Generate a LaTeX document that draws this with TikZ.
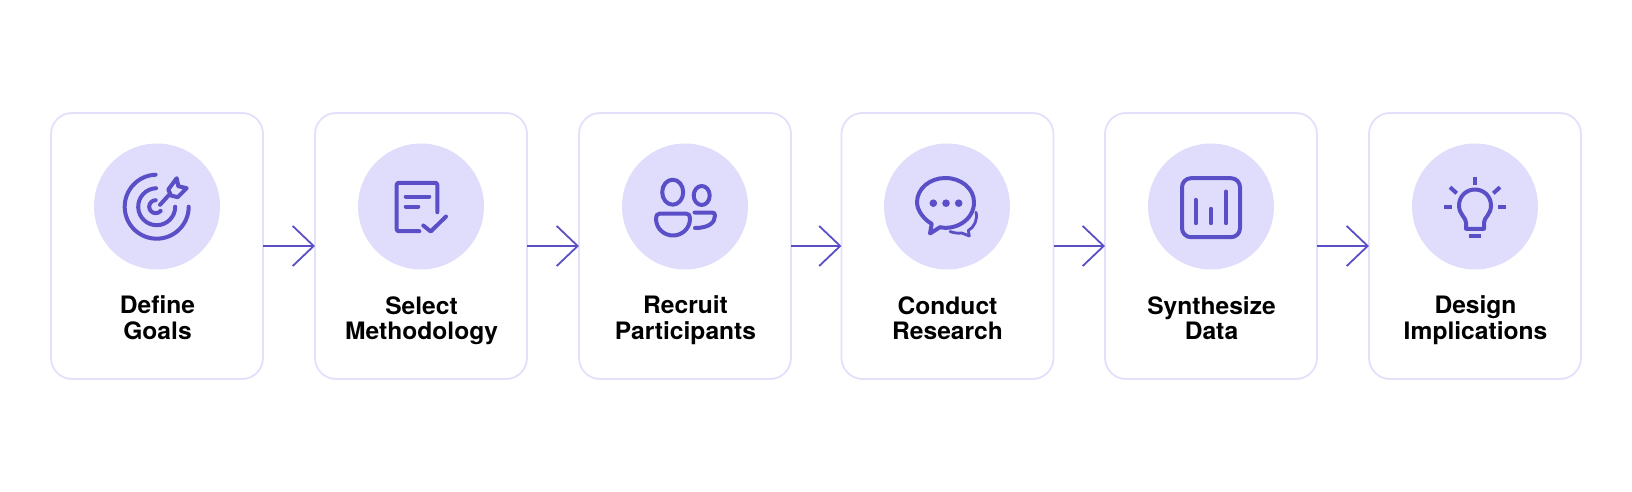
\documentclass[tikz,border=0pt]{standalone}
\usepackage{fontspec}
\setmainfont[FakeStretch=1.025]{TeX Gyre Heros}
\usetikzlibrary{arrows.meta}
\definecolor{iconblue}{HTML}{5B4FC7}
\definecolor{discfill}{HTML}{E0DDFC}
\definecolor{boxline}{HTML}{E3E0FB}
\newcommand{\twolines}[2]{\strut #1\\\strut #2}
\tikzset{
    stepbox/.style={shape=rectangle,draw=boxline,line width=1.8pt,rounded corners=21pt,
        minimum width=212pt,minimum height=266pt,outer sep=0pt,fill=white},
    disc/.style={shape=circle,fill=discfill,minimum size=126pt,inner sep=0pt},
    steptext/.style={align=center,inner sep=0pt,font=\fontsize{24}{25.2}\selectfont\bfseries,text=black},
    icon/.style={draw=iconblue,line width=4pt,line cap=round,line join=round},
}

\begin{document}
\begin{tikzpicture}[x=1pt,y=-1pt]
\useasboundingbox (0, 0) rectangle (1632, 492);

\begin{scope}
    \node (goals) at (157, 246) [stepbox] {};
    \node (method) at (421, 246) [stepbox] {};
    \node (recruit) at (685, 246) [stepbox] {};
    \node (conduct) at (947.5, 246) [stepbox] {};
    \node (synth) at (1211, 246) [stepbox] {};
    \node (design) at (1475, 246) [stepbox] {};

    \node (goalsdisc) at (157, 206.5) [disc] {};
    \node (methoddisc) at (421, 206.5) [disc] {};
    \node (recruitdisc) at (685, 206.5) [disc] {};
    \node (conductdisc) at (947, 206.5) [disc] {};
    \node (synthdisc) at (1211, 206.5) [disc] {};
    \node (designdisc) at (1475, 206.5) [disc] {};

    \node (goalstext) at (157.5, 321.5) [steptext] {\twolines{Define}{Goals}};
    \node (methodtext) at (421.5, 321.5) [steptext] {\twolines{Select}{Methodology}};
    \node (recruittext) at (685.5, 321.5) [steptext] {\twolines{Recruit}{Participants}};
    \node (conducttext) at (947.5, 321.5) [steptext] {\twolines{Conduct}{Research}};
    \node (synthtext) at (1211.5, 321.5) [steptext] {\twolines{Synthesize}{Data}};
    \node (designtext) at (1475.5, 321.5) [steptext] {\twolines{Design}{Implications}};
\end{scope}

\begin{scope}[>={Straight Barb[length=21pt,width=40pt,line width=1.8pt]},
              every edge/.style={draw=iconblue,line width=1.8pt}]
    \path [->] (goals) edge (method);
    \path [->] (method) edge (recruit);
    \path [->] (recruit) edge (conduct);
    \path [->] (conduct) edge (synth);
    \path [->] (synth) edge (design);
\end{scope}

% target
\begin{scope}[shift={(goalsdisc.center)}]
    \draw [icon] (-0.3, 0.2) ++(268:32) arc[start angle=268, end angle=0, radius=32];
    \draw [icon] (-0.3, 0.2) ++(268:18.5) arc[start angle=268, end angle=0, radius=18.5];
    \draw [icon] (-1.3, 0.2) ++(270:6.5) arc[start angle=270, end angle=40, radius=6.5];
    \draw [icon] (3, -1.7) -- (13, -12.7);
    \draw [icon] (11.3, -17) -- (19.7, -28.3) -- (21.3, -20.3) -- (29.7, -18.3) -- (20.7, -9.3) -- (14, -11) -- cycle;
\end{scope}

% document with check
\begin{scope}[shift={(methoddisc.center)}]
    \draw [icon, rounded corners=2pt] (16.3, 5.7) -- (16.3, -23.7) -- (-24.3, -23.7) -- (-24.3, 24.7) -- (-1.7, 24.7);
    \draw [icon] (-15.3, -10) -- (8.3, -10);
    \draw [icon] (-15.3, 0) -- (-2.7, 0);
    \draw [icon] (2.3, 19) -- (9.7, 25) -- (25, 10);
\end{scope}

% people
\begin{scope}[shift={(recruitdisc.center)}]
    \draw [icon] (-12.3, -14.3) ellipse [x radius=10.5, y radius=12.5];
    \draw [icon] (16.7, -11) ellipse [x radius=8, y radius=9.5];
    \draw [icon] (-25, 7) -- (1, 7) .. controls (4, 7) and (5, 9) .. (5, 12) .. controls (5, 23) and (-4, 29) .. (-12, 29) .. controls (-20, 29) and (-29, 23) .. (-29, 12) .. controls (-29, 9) and (-28, 7) .. (-25, 7);
    \draw [icon] (9.5, 6) -- (27, 6) .. controls (29, 6) and (30, 7) .. (30, 9) .. controls (30, 16) and (24, 21.5) .. (10, 21.5);
\end{scope}

% chat
\begin{scope}[shift={(conductdisc.center)}]
    \draw [icon] (-7, 20.7) .. controls (8, 24) and (27, 14) .. (27, -4.3) .. controls (27, -18) and (14, -28.5) .. (-1.7, -28.5) .. controls (-17, -28.5) and (-30, -18) .. (-30, -4.3) .. controls (-30, 4) and (-23, 13) .. (-15.3, 17.3) -- (-17, 27) -- cycle;
    \fill [iconblue] (-13.7, -3.3) circle (3.8);
    \fill [iconblue] (-1, -3.3) circle (3.8);
    \fill [iconblue] (11.7, -3.3) circle (3.8);
    \draw [icon, line width=2.8pt] (29, 5.7) .. controls (31, 13) and (27, 21) .. (21.3, 24) -- (22.3, 29.5) -- (14.7, 26.5) .. controls (11, 27) and (7, 26.5) .. (3, 25);
\end{scope}

% chart
\begin{scope}[shift={(synthdisc.center)}]
    \draw [icon, rounded corners=9pt] (-29, -28.3) rectangle (29, 30.7);
    \draw [icon] (-15.3, -6.7) -- (-15.3, 16.7);
    \draw [icon] (0, 2.3) -- (0, 16.7);
    \draw [icon] (15, -15) -- (15, 16.7);
\end{scope}

% bulb
\begin{scope}[shift={(designdisc.center)}]
    \draw [icon, line cap=butt] (0, -29.3) -- (0, -21.5);
    \draw [icon, line cap=butt] (-25, -19.3) -- (-18.3, -13.2);
    \draw [icon, line cap=butt] (25, -19.3) -- (18.3, -13.2);
    \draw [icon, line cap=butt] (-30.7, 0.7) -- (-22.7, 0.7);
    \draw [icon, line cap=butt] (23, 0.7) -- (30.7, 0.7);
    \draw [icon] (-9, 22.3) -- (-9, 16) .. controls (-9, 11) and (-16, 8) .. (-16, -1) .. controls (-16, -10) and (-9, -17) .. (0, -17) .. controls (9, -17) and (16, -10) .. (16, -1) .. controls (16, 8) and (9, 11) .. (9, 16) -- (9, 22.3) -- cycle;
    \draw [icon, line cap=butt] (-6, 29.7) -- (6, 29.7);
\end{scope}
\end{tikzpicture}
\end{document}
